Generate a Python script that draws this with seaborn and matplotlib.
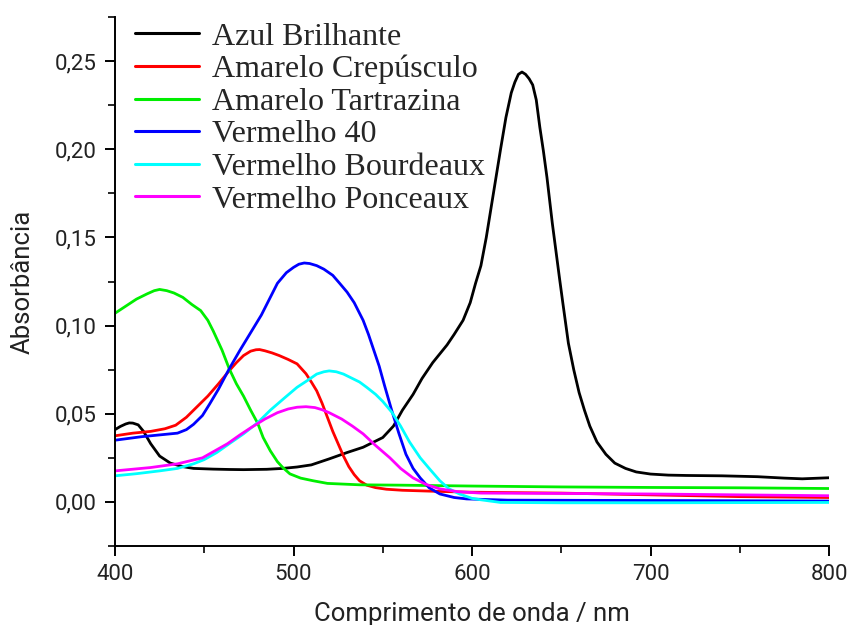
import numpy as np
import pandas as pd
import matplotlib
matplotlib.use("Agg")
import matplotlib.pyplot as plt
import seaborn as sns
from matplotlib.ticker import MultipleLocator, FuncFormatter

names = ["Azul Brilhante", "Amarelo Crepúsculo", "Amarelo Tartrazina",
         "Vermelho 40", "Vermelho Bourdeaux", "Vermelho Ponceaux"]
colors = ["#000000", "#ff0000", "#00ee00", "#0000ff", "#00ffff", "#ff00ff"]

azul_wl = [400, 403, 406, 408, 410, 413, 416, 420, 425, 431, 438, 444, 455, 464, 472, 485, 494, 502,
           510, 520, 530, 539, 545, 550, 556, 561, 567, 572, 578, 582, 586, 590, 595, 599, 602, 605,
           608, 612, 616, 619, 622, 624, 626, 628, 630, 632, 634, 636, 638, 640, 642, 645, 649, 651,
           654, 657, 660, 663, 666, 670, 675, 680, 686, 692, 700, 710, 720, 740, 760, 775, 785, 795,
           800]
azul_a = [0.041, 0.0428, 0.0442, 0.0448, 0.0447, 0.0437, 0.040, 0.033, 0.026, 0.022, 0.020, 0.019,
          0.0186, 0.0184, 0.0183, 0.0185, 0.019, 0.0198, 0.021, 0.0244, 0.028, 0.031, 0.034, 0.0365,
          0.043, 0.052, 0.061, 0.070, 0.079, 0.084, 0.089, 0.095, 0.103, 0.113, 0.124, 0.134, 0.150,
          0.175, 0.200, 0.218, 0.232, 0.238, 0.2425, 0.2438, 0.2425, 0.240, 0.2365, 0.228, 0.2125,
          0.199, 0.184, 0.158, 0.127, 0.112, 0.090, 0.075, 0.062, 0.052, 0.043, 0.034, 0.027, 0.022,
          0.019, 0.017, 0.0158, 0.0152, 0.015, 0.0148, 0.0143, 0.0135, 0.0131, 0.0135, 0.0137]

crep_wl = [400, 410, 420, 428, 434, 440, 446, 452, 458, 464, 468, 472, 476, 479, 481, 484, 488, 492,
           497, 502, 507, 510, 513, 516, 519, 522, 525, 528, 531, 534, 537, 541, 546, 552, 561, 580,
           600, 650, 700, 750, 800]
crep_a = [0.0375, 0.039, 0.040, 0.0415, 0.0435, 0.048, 0.054, 0.060, 0.067, 0.0744, 0.079, 0.083,
          0.0855, 0.0863, 0.0864, 0.0857, 0.0845, 0.083, 0.0808, 0.0783, 0.0727, 0.068, 0.063,
          0.056, 0.048, 0.040, 0.033, 0.026, 0.020, 0.0155, 0.012, 0.0095, 0.0081, 0.0072, 0.0066,
          0.006, 0.0055, 0.005, 0.004, 0.003, 0.0025]

tart_wl = [400, 406, 412, 418, 422, 425, 429, 433, 438, 443, 448, 452, 455, 460, 464, 468, 472, 476,
           480, 483, 487, 491, 494, 498, 504, 511, 519, 537, 560, 600, 650, 700, 750, 800]
tart_a = [0.107, 0.111, 0.115, 0.118, 0.1198, 0.1205, 0.1198, 0.1185, 0.116, 0.112, 0.1085, 0.103,
          0.097, 0.086, 0.0755, 0.067, 0.060, 0.052, 0.0445, 0.0365, 0.029, 0.0228, 0.0195, 0.0159,
          0.0135, 0.012, 0.0105, 0.0097, 0.0095, 0.009, 0.0085, 0.0082, 0.008, 0.0076]

v40_wl = [400, 415, 425, 435, 440, 444, 449, 453, 458, 464, 470, 476, 482, 487, 491, 496, 500, 503,
          506, 509, 513, 517, 522, 526, 530, 534, 539, 542, 545, 548, 551, 555, 559, 563, 567, 571,
          576, 582, 590, 597, 620, 700, 800]
v40_a = [0.035, 0.037, 0.038, 0.039, 0.041, 0.044, 0.049, 0.0555, 0.064, 0.0755, 0.086, 0.096, 0.106,
         0.116, 0.124, 0.130, 0.133, 0.1348, 0.1355, 0.1352, 0.134, 0.132, 0.1285, 0.1238, 0.119,
         0.113, 0.103, 0.095, 0.086, 0.077, 0.066, 0.052, 0.039, 0.027, 0.019, 0.0136, 0.008,
         0.0045, 0.0025, 0.0017, 0.001, 0.0008, 0.0005]

bord_wl = [400, 412, 425, 435, 444, 450, 457, 464, 472, 480, 487, 495, 502, 508, 513, 517, 520, 524,
           528, 532, 537, 541, 546, 550, 555, 560, 565, 571, 576, 582, 587, 593, 600, 605, 616, 650,
           700, 800]
bord_a = [0.0148, 0.016, 0.0176, 0.019, 0.0216, 0.024, 0.028, 0.033, 0.0386, 0.045, 0.052, 0.059,
          0.065, 0.069, 0.0725, 0.0738, 0.0743, 0.0738, 0.0725, 0.0705, 0.068, 0.065, 0.061, 0.057,
          0.051, 0.043, 0.034, 0.025, 0.019, 0.012, 0.0075, 0.0045, 0.002, 0.0012, -0.0003, -0.0005,
          -0.0005, -0.0003]

ponc_wl = [400, 420, 435, 449, 456, 463, 470, 476, 484, 491, 497, 502, 507, 512, 516, 520, 527, 533,
           539, 546, 554, 560, 567, 574, 582, 592, 605, 650, 700, 750, 800]
ponc_a = [0.0176, 0.0195, 0.0216, 0.025, 0.029, 0.033, 0.038, 0.042, 0.047, 0.0506, 0.0527, 0.0537,
          0.054, 0.0535, 0.0523, 0.0506, 0.047, 0.043, 0.0386, 0.032, 0.025, 0.019, 0.0136, 0.010,
          0.0074, 0.0058, 0.005, 0.0048, 0.0045, 0.004, 0.0035]

series = [(azul_wl, azul_a), (crep_wl, crep_a), (tart_wl, tart_a),
          (v40_wl, v40_a), (bord_wl, bord_a), (ponc_wl, ponc_a)]

frames = []
for name, (wl, a) in zip(names, series):
    frames.append(pd.DataFrame({"wl": wl, "A": a, "corante": name}))
df = pd.concat(frames, ignore_index=True)

sns.set_style("ticks")
plt.rcParams["font.family"] = ["Roboto", "DejaVu Sans"]

fig = plt.figure(figsize=(8.49, 6.25), dpi=100)
ax = fig.add_axes([115 / 849, 1 - 546 / 625, 714 / 849, 529 / 625])

sns.lineplot(data=df, x="wl", y="A", hue="corante", hue_order=names,
             palette=dict(zip(names, colors)), linewidth=2.0, ax=ax,
             estimator=None, sort=False)
for ln in ax.get_lines():
    ln.set_solid_joinstyle("round")

ax.set_xlim(400, 800)
ax.set_ylim(-0.025, 0.275)
ax.xaxis.set_major_locator(MultipleLocator(100))
ax.xaxis.set_minor_locator(MultipleLocator(50))
ax.yaxis.set_major_locator(MultipleLocator(0.05))
ax.yaxis.set_minor_locator(MultipleLocator(0.025))
ax.yaxis.set_major_formatter(FuncFormatter(lambda v, p: f"{v:.2f}".replace(".", ",").replace("-0,00", "0,00")))
ax.xaxis.set_major_formatter(FuncFormatter(lambda v, p: f"{v:.0f}"))

for s in ["top", "right"]:
    ax.spines[s].set_visible(False)
for s in ["left", "bottom"]:
    ax.spines[s].set_linewidth(1.4)
    ax.spines[s].set_color("black")

ax.tick_params(axis="both", which="major", direction="out", length=7, width=1.4,
               labelsize=16, colors="black", labelcolor="#222222", pad=6)
ax.tick_params(axis="both", which="minor", direction="out", length=5, width=1.4)

ax.set_xlabel("Comprimento de onda / nm", fontsize=18.5, labelpad=12, color="#222222")
ax.set_ylabel("Absorbância", fontsize=18.5, labelpad=15, color="#222222")

handles, labels = ax.get_legend_handles_labels()
leg = ax.legend(handles, labels, loc="upper left", bbox_to_anchor=(0.028, 0.99),
                frameon=False, borderpad=0, borderaxespad=0,
                handlelength=2.0, handletextpad=0.4, labelspacing=0.1,
                prop={"family": ["Liberation Serif", "DejaVu Serif"], "size": 23})
for line in leg.get_lines():
    line.set_linewidth(2.2)

fig.savefig("out.png", dpi=100)
